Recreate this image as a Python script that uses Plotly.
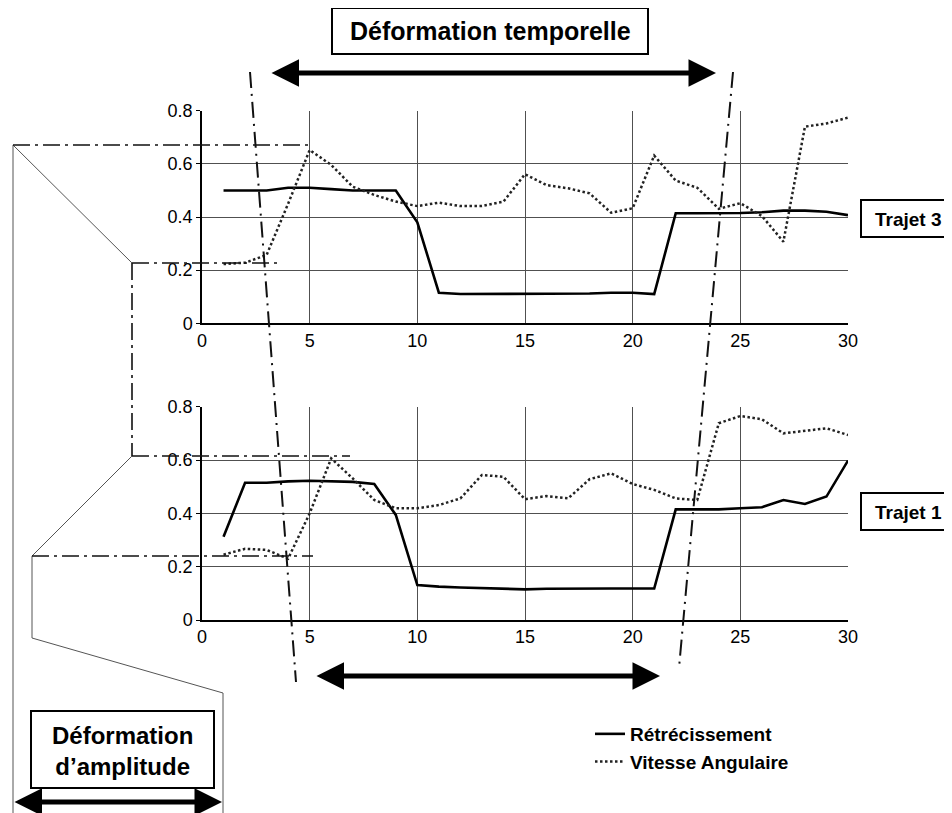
import plotly.graph_objects as go

# ---------------- data ----------------
pas = list(range(1, 31))
x_ticks = [0, 5, 10, 15, 20, 25, 30]
y_ticks = [0, 0.2, 0.4, 0.6, 0.8]
y_tick_labels = ["0", "0.2", "0.4", "0.6", "0.8"]

trajet3_retrecissement = [0.50, 0.50, 0.50, 0.51, 0.51, 0.505, 0.50, 0.50, 0.50, 0.38,
                          0.115, 0.11, 0.11, 0.11, 0.11, 0.11, 0.11, 0.112, 0.115, 0.115,
                          0.11, 0.414, 0.414, 0.414, 0.415, 0.418, 0.424, 0.424, 0.42, 0.407]
trajet3_vitesse = [0.223, 0.228, 0.257, 0.45, 0.652, 0.596, 0.514, 0.483, 0.458, 0.441,
                   0.454, 0.441, 0.441, 0.458, 0.561, 0.52, 0.508, 0.489, 0.416, 0.433,
                   0.631, 0.537, 0.51, 0.431, 0.452, 0.404, 0.307, 0.74, 0.752, 0.774]
trajet1_retrecissement = [0.312, 0.515, 0.515, 0.52, 0.522, 0.52, 0.518, 0.51, 0.394, 0.131,
                          0.125, 0.122, 0.12, 0.117, 0.115, 0.117, 0.118, 0.118, 0.118, 0.118,
                          0.118, 0.415, 0.415, 0.415, 0.419, 0.423, 0.45, 0.435, 0.463, 0.598]
trajet1_vitesse = [0.245, 0.267, 0.263, 0.23, 0.40, 0.606, 0.531, 0.45, 0.419, 0.419,
                   0.431, 0.456, 0.544, 0.537, 0.453, 0.465, 0.456, 0.528, 0.55, 0.51,
                   0.488, 0.456, 0.45, 0.738, 0.765, 0.753, 0.70, 0.71, 0.719, 0.694]

series_names = ["Rétrécissement", "Vitesse Angulaire"]
trajet_labels = ["Trajet 3", "Trajet 1"]
titre_temporel = "Déformation temporelle"
titre_amplitude = "Déformation<br>d’amplitude"

# ---------------- layout helpers ----------------
W, H = 952, 813
OFF = 8  # page body margin: the figure starts 8px from the window corner
FONT = "Liberation Sans, Arial, sans-serif"


def px(x):
    return (x - OFF) / W


def py(y):
    return 1 - (y - OFF) / H


DOT = "2.5px,2.5px"
DASHDOT = "17px,5px,3px,5px"

fig = go.Figure()

# top panel (Trajet 3)
fig.add_trace(go.Scatter(x=pas, y=trajet3_retrecissement, mode="lines", name=series_names[0],
                         line=dict(color="black", width=2.6), xaxis="x", yaxis="y"))
fig.add_trace(go.Scatter(x=pas, y=trajet3_vitesse, mode="lines", name=series_names[1],
                         line=dict(color="#222", width=2.5, dash=DOT), xaxis="x", yaxis="y"))
# bottom panel (Trajet 1)
fig.add_trace(go.Scatter(x=pas, y=trajet1_retrecissement, mode="lines", name=series_names[0],
                         showlegend=False,
                         line=dict(color="black", width=2.6), xaxis="x2", yaxis="y2"))
fig.add_trace(go.Scatter(x=pas, y=trajet1_vitesse, mode="lines", name=series_names[1],
                         showlegend=False,
                         line=dict(color="#222", width=2.5, dash=DOT), xaxis="x2", yaxis="y2"))

xdom = [px(202), px(848)]
axis_common = dict(showgrid=True, gridcolor="#505050", gridwidth=1, zeroline=False,
                   showline=True, linecolor="black", linewidth=1.5, automargin=False,
                   tickfont=dict(family=FONT, size=18, color="black"))
xcommon = dict(axis_common, range=[0, 30], tickvals=x_ticks, ticks="", domain=xdom)
ycommon = dict(axis_common, range=[0, 0.8], tickvals=y_ticks, ticktext=y_tick_labels,
               ticks="outside", ticklen=4, tickcolor="black")

shapes = []


def line(x0, y0, x1, y1, color="black", width=1.0, dash="solid"):
    shapes.append(dict(type="line", xref="paper", yref="paper",
                       x0=px(x0), y0=py(y0), x1=px(x1), y1=py(y1),
                       line=dict(color=color, width=width, dash=dash)))


def rect(x0, y0, x1, y1):
    shapes.append(dict(type="rect", xref="paper", yref="paper",
                       x0=px(x0), y0=py(y0), x1=px(x1), y1=py(y1),
                       line=dict(color="black", width=2), fillcolor="white"))


# amplitude bracket (thin grey lines)
G = "#555555"
line(13, 145, 13, 822, G, 1)
line(13, 145, 132, 263, G, 1)
line(132, 456, 32, 556, G, 1)
line(32, 556, 32, 638, G, 1)
line(32, 638, 223, 693, G, 1)
line(223, 693, 223, 822, G, 1)
# dash-dot guides
line(132, 263, 132, 456, "#111", 1.6, DASHDOT)
line(13, 145, 313, 145, "#111", 1.6, DASHDOT)
line(132, 263, 277, 263, "#111", 1.6, DASHDOT)
line(132, 456, 350, 456, "#111", 1.6, DASHDOT)
line(32, 556, 313, 556, "#111", 1.6, DASHDOT)
# slanted time-warp guides
line(250, 72, 296, 682, "#111", 2, "16px,6px,2px,6px")
line(733, 72, 679, 668, "#111", 2, "16px,6px,2px,6px")

# boxes
rect(332, 8, 648, 54)
rect(31, 711, 214, 788)
rect(861, 200, 953, 237)
rect(861, 493, 953, 530)


def label(text, x, y, size):
    return dict(text="<b>" + text + "</b>", x=px(x), y=py(y), xref="paper", yref="paper",
                xanchor="center", yanchor="middle", showarrow=False,
                font=dict(family=FONT, size=size, color="black"))


annotations = [
    label(titre_temporel, 490, 31, 25),
    label(titre_amplitude, 122.5, 751, 24),
    label(trajet_labels[0], 908, 219, 19),
    label(trajet_labels[1], 908, 512, 19),
]


def double_arrow(x0, x1, y):
    annotations.append(dict(text="", x=px(x1), y=py(y), xref="paper", yref="paper",
                            ax=-(x1 - x0), ay=0, axref="pixel", ayref="pixel",
                            showarrow=True, arrowside="end+start",
                            arrowhead=2, startarrowhead=2, arrowsize=1.1, startarrowsize=1.1,
                            arrowwidth=5, arrowcolor="black"))


double_arrow(270, 716, 73)
double_arrow(315, 660, 676)
double_arrow(13, 222, 802)

fig.update_layout(
    width=W, height=H,
    margin=dict(l=0, r=0, t=0, b=0, pad=0, autoexpand=False),
    paper_bgcolor="white", plot_bgcolor="white",
    xaxis=dict(xcommon, anchor="y"),
    yaxis=dict(ycommon, domain=[py(323.3), py(110.7)], anchor="x"),
    xaxis2=dict(xcommon, anchor="y2"),
    yaxis2=dict(ycommon, domain=[py(620), py(406.7)], anchor="x2"),
    shapes=shapes,
    annotations=annotations,
    showlegend=True,
    legend=dict(x=px(590), y=py(715), xanchor="left", yanchor="top",
                bgcolor="rgba(0,0,0,0)",
                font=dict(family=FONT, size=19, color="black", weight="bold"),
                tracegroupgap=0),
)

fig.write_html("out.html")
